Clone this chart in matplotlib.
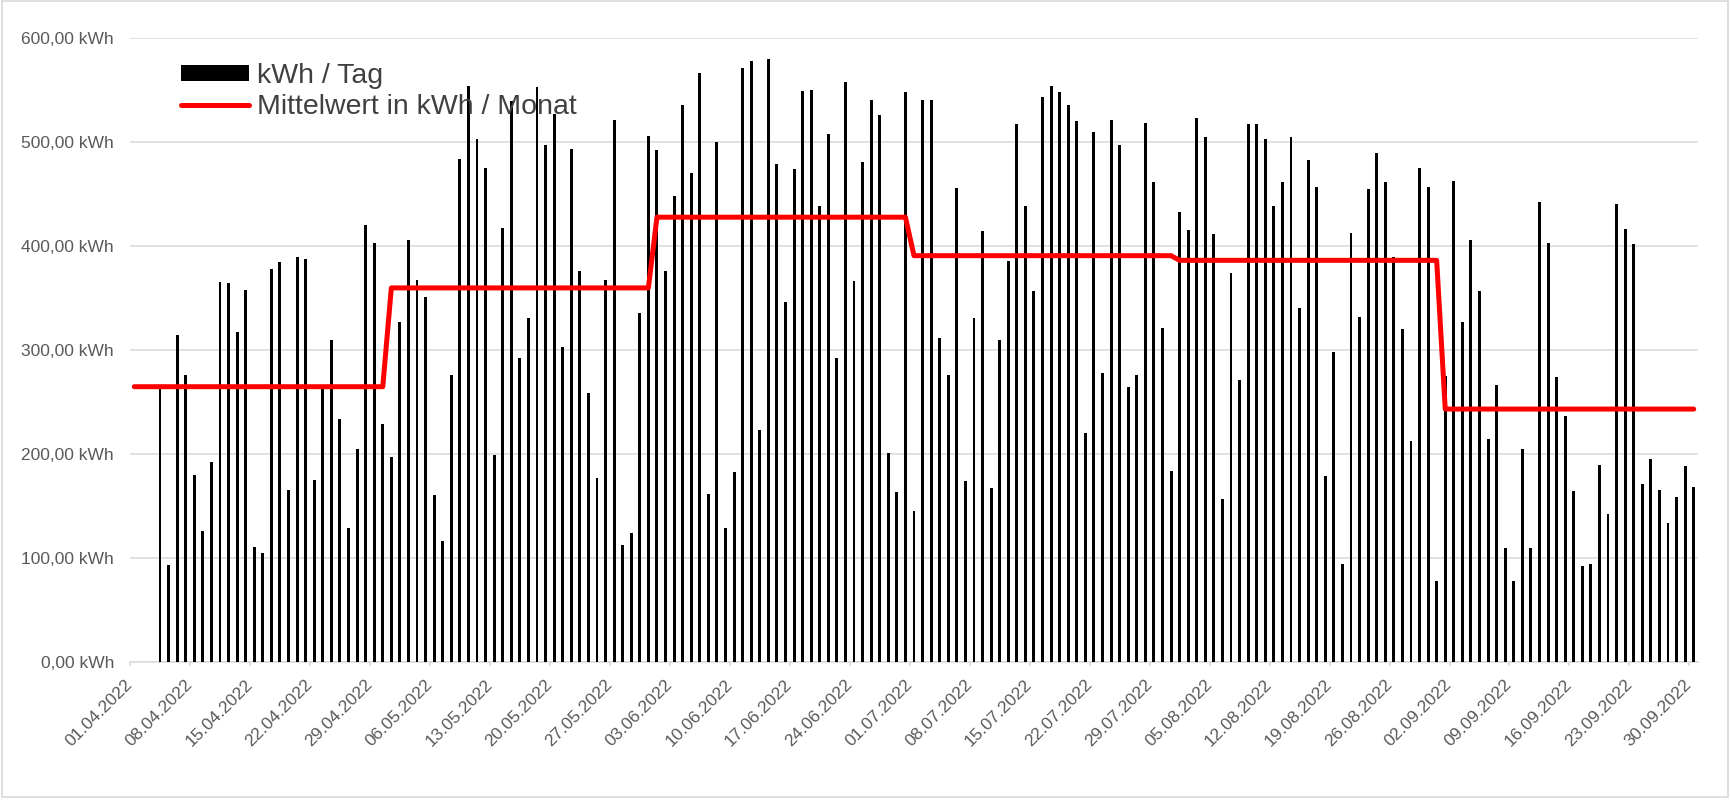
import numpy as np
import pandas as pd
import matplotlib
matplotlib.use('Agg')
import matplotlib.pyplot as plt
import matplotlib.dates as mdates
from matplotlib.patches import Patch, Rectangle
from matplotlib.lines import Line2D
from matplotlib.ticker import FuncFormatter
from matplotlib.transforms import ScaledTranslation

nan = np.nan

# daily energy (kWh / Tag)
kwh_april = [nan, nan, nan, 265, 94, 315, 276, 180, 126, 193, 366, 365, 318, 358,
             111, 105, 378, 385, 166, 390, 388, 175, 265, 310, 234, 129, 205, 420,
             403, 229]
kwh_may = [197, 327, 406, 368, 351, 161, 117, 276, 484, 554, 503, 475, 199, 418,
           540, 293, 331, 553, 497, 527, 303, 494, 376, 259, 177, 368, 521, 113,
           124, 336, 506]
kwh_june = [493, 376, 448, 536, 470, 567, 162, 500, 129, 183, 571, 578, 223, 580,
            479, 346, 474, 549, 550, 439, 508, 293, 558, 367, 481, 541, 526, 201,
            164, 548]
kwh_july = [145, 541, 541, 312, 276, 456, 174, 331, 415, 168, 310, 386, 518, 439,
            357, 544, 554, 548, 536, 520, 220, 510, 278, 521, 497, 265, 276, 519,
            462, 321, 184]
kwh_august = [433, 416, 523, 505, 412, 157, 374, 271, 518, 518, 503, 439, 462, 505,
              341, 483, 457, 179, 298, 95, 413, 332, 455, 490, 462, 390, 320, 213,
              475, 457, 78]
kwh_september = [275, 463, 327, 406, 357, 215, 267, 110, 78, 205, 110, 443, 403, 274,
                 237, 165, 93, 95, 190, 143, 441, 417, 402, 171, 195, 166, 134, 159,
                 189, 169]

# monthly mean (kWh / Monat line), April..September
monthly_mean = [265, 360, 428, 391, 386.5, 243.5]

start_date = '2022-04-01'
end_date = '2022-09-30'
label_day = 'kWh / Tag'
label_mean = 'Mittelwert in kWh / Monat'

dates = pd.date_range(start_date, end_date, freq='D')
daily = np.array(kwh_april + kwh_may + kwh_june + kwh_july + kwh_august + kwh_september, dtype=float)
mean_per_day = np.array([monthly_mean[d.month - 4] for d in dates])

plt.rcParams['font.family'] = ['Liberation Sans', 'DejaVu Sans']

W, H = 1730, 800
fig = plt.figure(figsize=(W / 100, H / 100), dpi=100)
fig.patch.set_facecolor('white')
left_px, right_px, top_px, bottom_px = 130, 1698, 38.3, 662.3
ax = fig.add_axes([left_px / W, 1 - bottom_px / H, (right_px - left_px) / W, (bottom_px - top_px) / H])

x = mdates.date2num(dates) + 0.5
ax.bar(x, daily, width=0.34, color='black', zorder=2, label=label_day)
ax.plot(x, mean_per_day, color='#ff0000', lw=3.6, solid_capstyle='round',
        solid_joinstyle='round', zorder=3, label=label_mean)

ax.set_xlim(mdates.date2num(pd.Timestamp(start_date)),
            mdates.date2num(pd.Timestamp(end_date)) + 1)
ax.set_ylim(0, 600)

tick_dates = pd.date_range(start_date, end_date, freq='7D')
ax.set_xticks(mdates.date2num(tick_dates))
ax.set_xticklabels([d.strftime('%d.%m.%Y') for d in tick_dates], rotation=45,
                   ha='right', va='center', rotation_mode='anchor')
off = ScaledTranslation(4 / 100, 0, fig.dpi_scale_trans)
for lab in ax.get_xticklabels():
    lab.set_transform(lab.get_transform() + off)

ax.set_yticks(np.arange(0, 601, 100))
ax.yaxis.set_major_formatter(FuncFormatter(lambda v, p: f"{v:.2f}".replace('.', ',') + ' kWh'))

grid_c = '#d9d9d9'
text_c = '#595959'
ax.yaxis.grid(True, color=grid_c, lw=1.1, zorder=0)
ax.set_axisbelow(True)
for s in ['top', 'right', 'left']:
    ax.spines[s].set_visible(False)
ax.spines['bottom'].set_color(grid_c)
ax.spines['bottom'].set_linewidth(1.1)
ax.spines['bottom'].set_zorder(1)
ax.tick_params(axis='x', direction='out', length=2.9, width=1.1, color=grid_c,
               labelsize=12.6, labelcolor=text_c, pad=11.5)
ax.tick_params(axis='y', length=0, labelsize=12.5, labelcolor=text_c, pad=11.5)

handles = [Patch(facecolor='black', edgecolor='none'),
           Line2D([], [], color='#ff0000', lw=3.6, solid_capstyle='round')]
leg = ax.legend(handles, [label_day, label_mean], loc='upper left',
                bbox_to_anchor=(0.0325, 0.960), frameon=False, fontsize=20.5,
                handlelength=2.38, handleheight=0.46, handletextpad=0.3,
                labelspacing=0.15, borderpad=0, borderaxespad=0,
                labelcolor='#404040')
leg.set_zorder(5)

fig.patches.append(Rectangle((2 / W, 3 / H), 1726 / W, 796 / H, transform=fig.transFigure,
                             fill=False, edgecolor=grid_c, lw=1.2))

fig.savefig('out.png', dpi=100, facecolor='white')
